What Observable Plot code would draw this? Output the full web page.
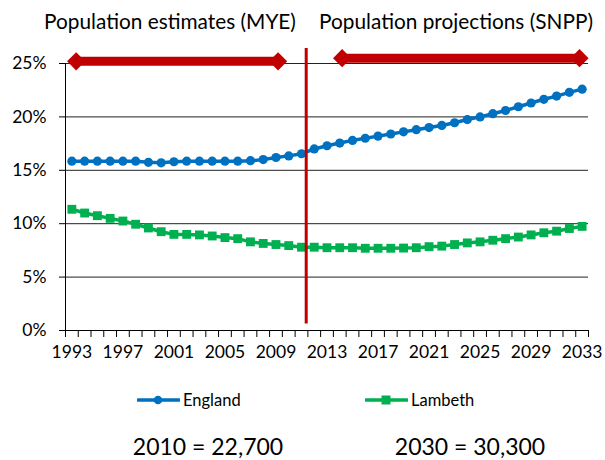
<!DOCTYPE html>
<html><head><meta charset="utf-8">
<script src="https://cdn.jsdelivr.net/npm/d3@7"></script>
<script src="https://cdn.jsdelivr.net/npm/@observablehq/plot@0.6"></script>
<style>
body{margin:0;background:#fff;font-family:Lato,"Open Sans",sans-serif;color:#000;}
#wrap{position:relative;width:605px;height:460px;overflow:hidden;}
.t{position:absolute;font-size:20.8px;white-space:nowrap;transform:translateX(-50%);line-height:1;}
.b{position:absolute;font-size:23px;white-space:nowrap;transform:translateX(-50%);line-height:1;}
.lg{position:absolute;font-size:16.5px;white-space:nowrap;line-height:1;display:flex;align-items:center;}
.lg svg{margin-right:3px;}
</style></head><body>
<div id="wrap">
  <div class="t" id="t1" style="left:170px;top:11px"></div>
  <div class="t" id="t2" style="left:456px;top:11px"></div>
  <div id="chart" style="position:absolute;left:0;top:35px"></div>
  <div class="lg" id="lg1" style="left:137px;top:392px"></div>
  <div class="lg" id="lg2" style="left:365px;top:392px"></div>
  <div class="b" id="b1" style="left:208px;top:435px"></div>
  <div class="b" id="b2" style="left:470px;top:435px"></div>
</div>
<script>
// ---- data ----
const years = d3.range(1993, 2034);
const england = [15.85,15.85,15.85,15.85,15.85,15.85,15.75,15.7,15.8,15.85,
  15.85,15.85,15.85,15.85,15.9,16.0,16.2,16.35,16.55,17.0,
  17.3,17.55,17.8,18.0,18.2,18.4,18.6,18.8,19.0,19.2,
  19.45,19.75,20.0,20.3,20.6,20.95,21.3,21.65,21.95,22.3,22.6];
const lambeth = [11.35,11.0,10.75,10.5,10.25,9.95,9.6,9.25,9.0,9.0,
  8.95,8.85,8.7,8.6,8.3,8.15,8.05,7.95,7.8,7.8,
  7.75,7.75,7.75,7.7,7.7,7.7,7.72,7.75,7.85,7.9,
  8.05,8.2,8.3,8.45,8.6,8.75,8.95,9.15,9.3,9.55,9.75];
const seriesNames = ["England", "Lambeth"];
const seriesColors = ["#0070C0", "#00B050"];
const yTicks = [0, 5, 10, 15, 20, 25];
const xLabelYears = [1993,1997,2001,2005,2009,2013,2017,2021,2025,2029,2033];
const periodTitles = ["Population estimates (MYE)", "Population projections (SNPP)"];
const arrowY = [25.2, 25.5];
const arrowStart = [1992.63, 2013.48];
const arrowEnd = [2009.87, 2033.5];
const splitYear = 2011.37;
const splitRange = [0.6, 26.4];
const footnotes = ["2010 = 22,700", "2030 = 30,300"];

// ---- build ----
const xDomain = [years[0] - 0.5, years[years.length - 1] + 0.5];
const boundaries = d3.range(xDomain[0], xDomain[1] + 0.01, 1);
const dEng = years.map((y, i) => ({year: y, value: england[i]}));
const dLam = years.map((y, i) => ({year: y, value: lambeth[i]}));
const arrows = arrowY.map((y, i) => ({y, x1: arrowStart[i], x2: arrowEnd[i]}));
const red = "#C00000";

const chart = Plot.plot({
  width: 605, height: 330,
  marginLeft: 65, marginRight: 17, marginTop: 28, marginBottom: 35,
  style: {fontFamily: "Lato, 'Open Sans', sans-serif", color: "#000", background: "#fff"},
  x: {type: "linear", domain: xDomain},
  y: {domain: [yTicks[0], yTicks[yTicks.length - 1]]},
  marks: [
    Plot.gridY(yTicks, {stroke: "#222", strokeOpacity: 1}),
    Plot.axisY(yTicks, {tickFormat: d => d + "%", tickSize: 6, tickPadding: 13, label: null, fontSize: 17.5}),
    Plot.ruleX([xDomain[0]], {y1: yTicks[0], y2: yTicks[yTicks.length - 1], stroke: "#000"}),
    Plot.ruleY([yTicks[0]], {stroke: "#000"}),
    Plot.axisX(boundaries, {tickFormat: () => "", tickSize: 7, label: null}),
    Plot.axisX(xLabelYears, {tickSize: 0, tickPadding: 15, tickFormat: d => String(d), label: null, fontSize: 17.5}),
    Plot.line(dLam, {x: "year", y: "value", stroke: seriesColors[1], strokeWidth: 3.5}),
    Plot.dot(dLam, {x: "year", y: "value", symbol: "square", r: 5, fill: seriesColors[1], stroke: "none"}),
    Plot.line(dEng, {x: "year", y: "value", stroke: seriesColors[0], strokeWidth: 3.5}),
    Plot.dot(dEng, {x: "year", y: "value", r: 4.6, fill: seriesColors[0], stroke: "none"}),
    Plot.ruleX([splitYear], {y1: splitRange[0], y2: splitRange[1], stroke: red, strokeWidth: 3}),
    Plot.ruleY(arrows, {y: "y", x1: "x1", x2: "x2", stroke: red, strokeWidth: 9, insetLeft: 8, insetRight: 8}),
    Plot.dot(arrows, {x: "x1", y: "y", symbol: "diamond2", r: 8.2, fill: red, stroke: "none", dx: 9}),
    Plot.dot(arrows, {x: "x2", y: "y", symbol: "diamond2", r: 8.2, fill: red, stroke: "none", dx: -9})
  ]
});
document.getElementById("chart").appendChild(chart);

document.getElementById("t1").textContent = periodTitles[0];
document.getElementById("t2").textContent = periodTitles[1];
document.getElementById("b1").textContent = footnotes[0];
document.getElementById("b2").textContent = footnotes[1];

function legendItem(id, name, color, marker) {
  const el = document.getElementById(id);
  const m = marker === "circle"
    ? `<circle cx="21" cy="8" r="4.3" fill="${color}"/>`
    : `<rect x="16.5" y="3.5" width="9" height="9" fill="${color}"/>`;
  el.innerHTML = `<svg width="43" height="16" viewBox="0 0 43 16"><line x1="1" y1="8" x2="42" y2="8" stroke="${color}" stroke-width="3.5" stroke-linecap="round"/>${m}</svg><span></span>`;
  el.querySelector("span").textContent = name;
}
legendItem("lg1", seriesNames[0], seriesColors[0], "circle");
legendItem("lg2", seriesNames[1], seriesColors[1], "square");
</script>
</body></html>
